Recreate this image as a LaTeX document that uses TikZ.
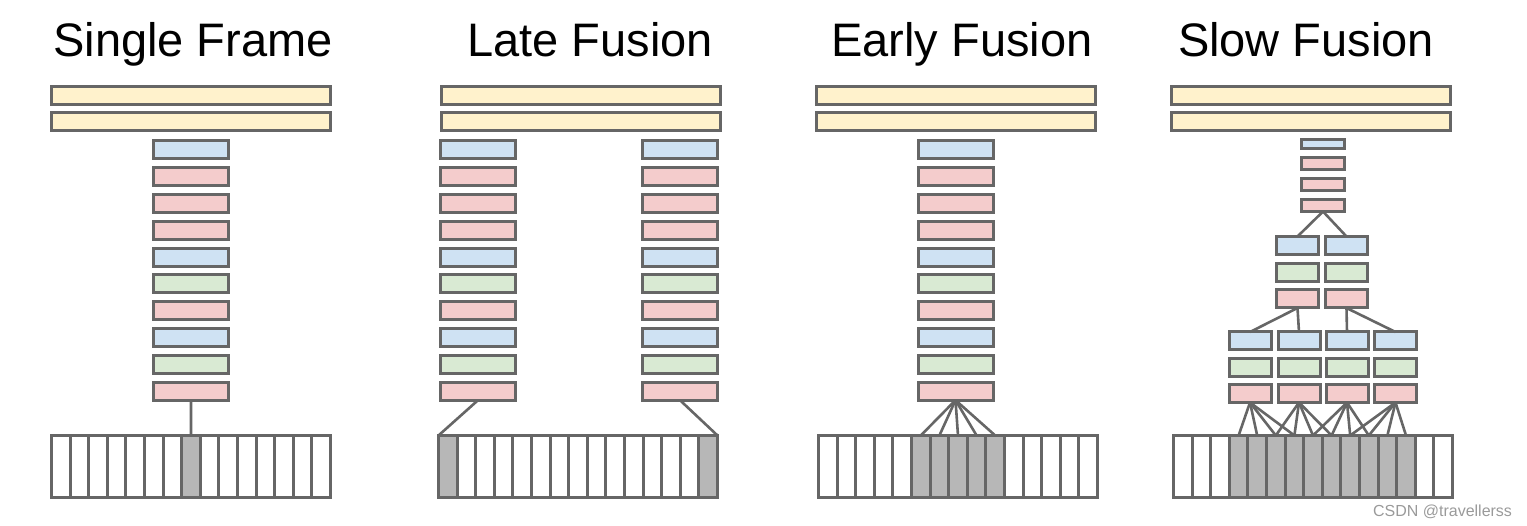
\documentclass[tikz,border=0pt]{standalone}
\usepackage{fontspec}
\setmainfont{Liberation Sans}
\usetikzlibrary{positioning}
\definecolor{cYel}  {HTML}{FFF2CC}
\definecolor{cBlue} {HTML}{CFE2F3}
\definecolor{cRed}  {HTML}{F4CCCC}
\definecolor{cGreen}{HTML}{D9EAD3}
\definecolor{cGray} {HTML}{B7B7B7}
\definecolor{cLine} {HTML}{666666}
\definecolor{cMark} {HTML}{9A9A9A}

\begin{document}
\begin{tikzpicture}[
    x=1pt, y=-1pt,
    every node/.style={inner sep=0pt, outer sep=0pt},
    title/.style={font=\fontsize{47}{50}\selectfont, anchor=base},
    bar/.style={
        draw=cLine, line width=3pt, fill=cYel,
        minimum width=279pt, minimum height=18pt
    },
    blk/.style={
        draw=cLine, line width=3pt,
        minimum width=75pt, minimum height=18pt
    },
    miniblk/.style={
        draw=cLine, line width=3pt,
        minimum width=42pt, minimum height=18pt
    },
    cell/.style={
        draw=cLine, line width=3pt, fill=white,
        minimum width=18.6pt, minimum height=62pt
    },
    link/.style={draw=cLine, line width=2.6pt}
]
\useasboundingbox (0,0) rectangle (1527,526);

% ── TITLES ─────────────────────────────────────────────────────
\node[title] (tSingle) at (193,57) {Single Frame};
\node[title] (tLate)   at (590,57) {Late Fusion};
\node[title] (tEarly)  at (962,57) {Early Fusion};
\node[title] (tSlow)   at (1306,57) {Slow Fusion};

% ── SINGLE FRAME ───────────────────────────────────────────────
\node[bar] (sfTop1) at (191,95.5) {};
\node[bar] (sfTop2) at (191,122) {};
\foreach \c [count=\k from 0] in {cBlue,cRed,cRed,cRed,cBlue,cGreen,cRed,cBlue,cGreen,cRed}
    \node[blk, fill=\c] (sf\k) at (191,150+26.8*\k) {};
\foreach \i in {0,...,14}
    \node[cell] (sfS\i) at (51.5+18.6*\i+9.3,466.5) {};
\node[cell, fill=cGray] at (sfS7) {};
\draw[link] (sf9.south) -- (sfS7.north);

% ── LATE FUSION ────────────────────────────────────────────────
\node[bar] (lfTop1) at (580.5,95.5) {};
\node[bar] (lfTop2) at (580.5,122) {};
\foreach \c [count=\k from 0] in {cBlue,cRed,cRed,cRed,cBlue,cGreen,cRed,cBlue,cGreen,cRed} {
    \node[blk, fill=\c] (lfa\k) at (478,150+26.8*\k) {};
    \node[blk, fill=\c] (lfb\k) at (680,150+26.8*\k) {};
}
\foreach \i in {0,...,14}
    \node[cell] (lfS\i) at (438.5+18.6*\i+9.3,466.5) {};
\node[cell, fill=cGray] at (lfS0) {};
\node[cell, fill=cGray] at (lfS14) {};
\draw[link] (lfa9.south) -- (lfS0.north west);
\draw[link] (lfb9.south) -- (lfS14.north east);

% ── EARLY FUSION ───────────────────────────────────────────────
\node[bar] (efTop1) at (955.5,95.5) {};
\node[bar] (efTop2) at (955.5,122) {};
\foreach \c [count=\k from 0] in {cBlue,cRed,cRed,cRed,cBlue,cGreen,cRed,cBlue,cGreen,cRed}
    \node[blk, fill=\c] (ef\k) at (955.5,150+26.8*\k) {};
\foreach \i in {0,...,14}
    \node[cell] (efS\i) at (818.5+18.6*\i+9.3,466.5) {};
\foreach \i in {5,...,9} {
    \node[cell, fill=cGray] at (efS\i) {};
    \draw[link] (ef9.south) -- (efS\i.north);
}

% ── SLOW FUSION ────────────────────────────────────────────────
\node[bar] (slTop1) at (1311,95.5) {};
\node[bar] (slTop2) at (1311,122) {};

% head: four small blocks
\node[miniblk, fill=cBlue, minimum width=43pt, minimum height=9pt] (slH0) at (1323,144) {};
\foreach \k in {1,2,3}
    \node[miniblk, fill=cRed, minimum width=43pt, minimum height=12pt]
        (slH\k) at (1323,142.5+21*\k) {};

% middle: two columns
\foreach \x [count=\k from 0] in {1297.5,1346.5} {
    \node[miniblk, fill=cBlue]  (slPa\k) at (\x,245.5) {};
    \node[miniblk, fill=cGreen] (slPb\k) at (\x,272.5) {};
    \node[miniblk, fill=cRed]   (slPc\k) at (\x,299) {};
    \draw[link] (slH3.south) -- (slPa\k.north);
}

% lower: four columns
\foreach \x [count=\k from 0] in {1250,1299,1347,1395.5} {
    \node[miniblk, fill=cBlue]  (slA\k) at (\x,341) {};
    \node[miniblk, fill=cGreen] (slB\k) at (\x,367.5) {};
    \node[miniblk, fill=cRed]   (slC\k) at (\x,393.5) {};
}
\draw[link] (slPc0.south) -- (slA0.north);
\draw[link] (slPc0.south) -- (slA1.north);
\draw[link] (slPc1.south) -- (slA2.north);
\draw[link] (slPc1.south) -- (slA3.north);

% frames
\foreach \i in {0,...,14}
    \node[cell] (slS\i) at (1173.5+18.6*\i+9.3,466.5) {};
\foreach \i in {3,...,12}
    \node[cell, fill=cGray] at (slS\i) {};
\foreach \k in {0,...,3}
    \foreach \j in {0,...,3} {
        \pgfmathtruncatemacro\c{3+2*\k+\j}
        \draw[link] (slC\k.south) -- (slS\c.north);
    }

% ── WATERMARK ──────────────────────────────────────────────────
\node[font=\fontsize{16}{18}\selectfont, text=cMark, anchor=base east]
    (mark) at (1512,517) {CSDN @travellerss};

\end{tikzpicture}
\end{document}
